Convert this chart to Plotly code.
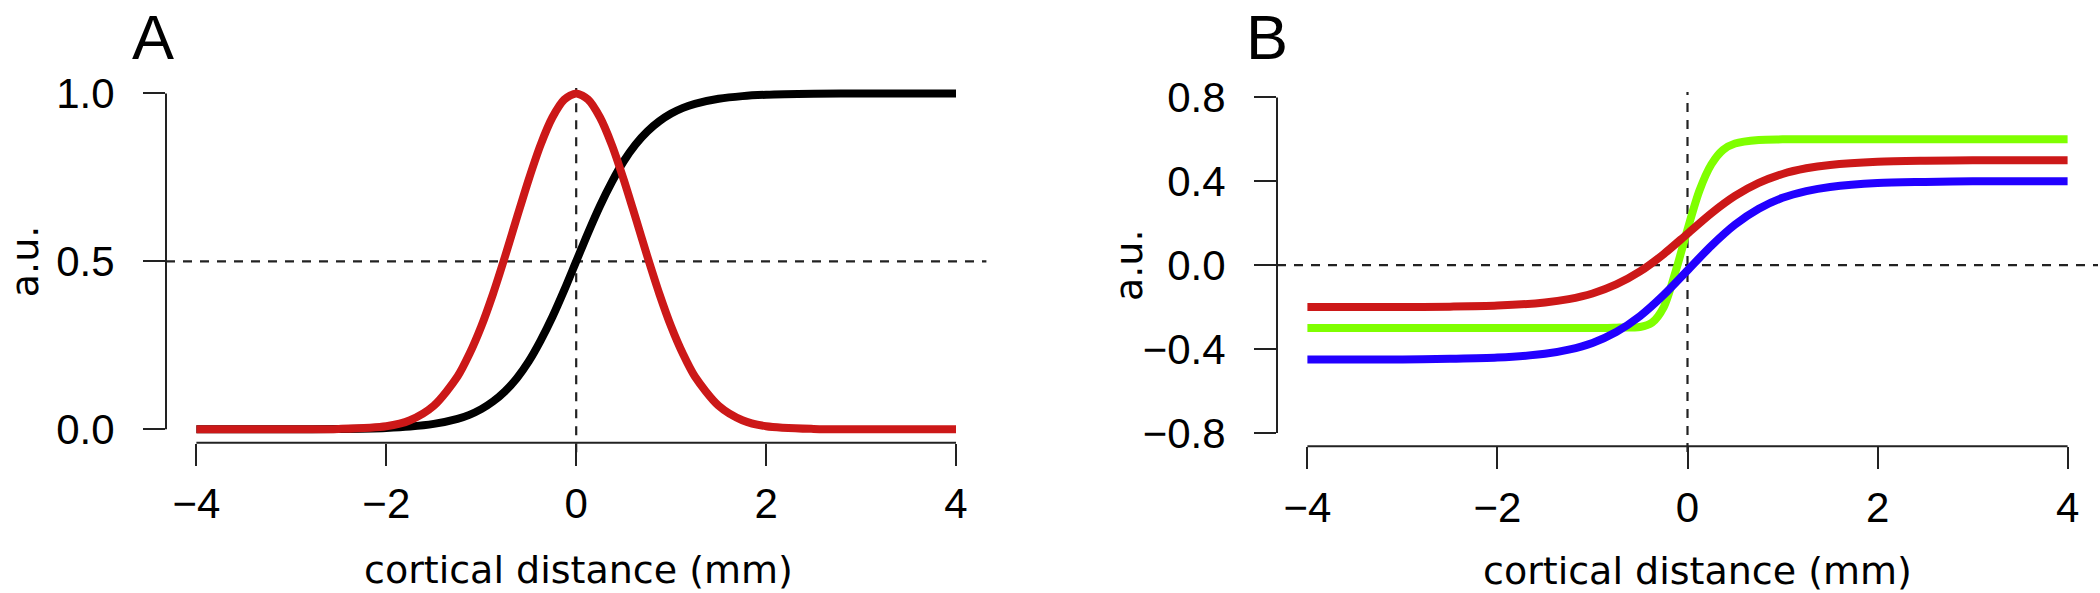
import plotly.graph_objects as go

# ---------------- data ----------------
# Panel A
xA = [-4, -3, -2.5, -2, -1.75, -1.5, -1.25, -1.125, -1, -0.875, -0.75, -0.625, -0.5, -0.375,
      -0.25, -0.125, 0, 0.125, 0.25, 0.375, 0.5, 0.625, 0.75, 0.875, 1, 1.125, 1.25, 1.5,
      1.75, 2, 2.5, 3, 4]
blackA = [0.0, 0.0, 0.001, 0.004, 0.008, 0.016, 0.031, 0.043, 0.06, 0.083, 0.113, 0.152, 0.202, 0.264,
          0.335, 0.415, 0.5, 0.585, 0.665, 0.736, 0.798, 0.848, 0.887, 0.917, 0.94, 0.957, 0.969, 0.984,
          0.992, 0.996, 0.999, 1.0, 1.0]
redA = [0.0, 0.0, 0.001, 0.009, 0.027, 0.07, 0.157, 0.224, 0.306, 0.404, 0.514, 0.63, 0.744, 0.847,
        0.929, 0.982, 1.0, 0.982, 0.929, 0.847, 0.744, 0.63, 0.514, 0.404, 0.306, 0.224, 0.157, 0.07,
        0.027, 0.009, 0.001, 0.0, 0.0]

# Panel B
xB = [-4, -3, -2.5, -2, -1.5, -1.25, -1, -0.75, -0.5, -0.25, 0,
      0.25, 0.5, 0.75, 1, 1.25, 1.5, 2, 2.5, 3, 4]
redB = [-0.2, -0.2, -0.198, -0.193, -0.178, -0.162, -0.135, -0.092, -0.03, 0.053, 0.15,
        0.247, 0.33, 0.392, 0.435, 0.462, 0.478, 0.493, 0.498, 0.5, 0.5]
blueB = [-0.45, -0.45, -0.447, -0.441, -0.423, -0.403, -0.371, -0.319, -0.243, -0.142, -0.025,
         0.092, 0.193, 0.269, 0.321, 0.353, 0.373, 0.392, 0.397, 0.4, 0.4]
xG = [-4, -1, -0.75, -0.5, -0.375, -0.25, -0.125, 0, 0.125, 0.25, 0.375, 0.5, 0.75, 1, 4]
greenB = [-0.3, -0.3, -0.298, -0.295, -0.275, -0.2, -0.03, 0.17, 0.355, 0.48, 0.55, 0.58, 0.597, 0.6, 0.6]

x_ticks = [-4, -2, 0, 2, 4]
x_ticktext = ["\u22124", "\u22122", "0", "2", "4"]
yA_ticks = [0, 0.5, 1.0]
yA_ticktext = ["0.0", "0.5", "1.0"]
yB_ticks = [-0.8, -0.4, 0.0, 0.4, 0.8]
yB_ticktext = ["\u22120.8", "\u22120.4", "0.0", "0.4", "0.8"]
x_title = "cortical distance (mm)"
y_title = "a.u."

# ---------------- layout helpers ----------------
W, H = 2100, 593
def px(x):
    return x / W
def py(y):
    return 1 - y / H

BLACK = "#000000"
RED = "#CC1818"
GREEN = "#7FFF00"
BLUE = "#2200FF"
AXC = "#222222"
LW = 8

fig = go.Figure()
fig.add_trace(go.Scatter(x=xA, y=blackA, mode="lines", line=dict(color=BLACK, width=LW, shape="spline", smoothing=0.8),
                         xaxis="x", yaxis="y", showlegend=False))
fig.add_trace(go.Scatter(x=xA, y=redA, mode="lines", line=dict(color=RED, width=LW, shape="spline", smoothing=0.8),
                         xaxis="x", yaxis="y", showlegend=False))
fig.add_trace(go.Scatter(x=xG, y=greenB, mode="lines", line=dict(color=GREEN, width=LW, shape="spline", smoothing=0.8),
                         xaxis="x2", yaxis="y2", showlegend=False))
fig.add_trace(go.Scatter(x=xB, y=redB, mode="lines", line=dict(color=RED, width=LW, shape="spline", smoothing=0.8),
                         xaxis="x2", yaxis="y2", showlegend=False))
fig.add_trace(go.Scatter(x=xB, y=blueB, mode="lines", line=dict(color=BLUE, width=LW, shape="spline", smoothing=0.8),
                         xaxis="x2", yaxis="y2", showlegend=False))

tickfont = dict(family="Liberation Sans, Arial, sans-serif", size=42, color="#000")
common_x = dict(tickvals=x_ticks, ticktext=x_ticktext, ticks="outside", ticklen=22, tickwidth=2,
                tickcolor=AXC, showline=False, showgrid=False, zeroline=False, tickfont=tickfont,
                ticklabelstandoff=2, fixedrange=True, automargin=False)
common_y = dict(ticks="outside", ticklen=22, tickwidth=2, tickcolor=AXC, showline=False,
                showgrid=False, zeroline=False, tickfont=tickfont, ticklabelstandoff=20, fixedrange=True,
                automargin=False)

# panel regions (pixels)
A_l, A_r, A_t, A_b = 166.0, 986.4, 80.0, 442.7
B_l, B_r, B_t, B_b = 1277.0, 2098.0, 84.0, 446.3

fig.update_layout(
    width=W, height=H, margin=dict(l=0, r=0, t=0, b=0, autoexpand=False),
    paper_bgcolor="white", plot_bgcolor="white",
    xaxis=dict(domain=[px(A_l), px(A_r)], range=[-4.32, 4.32], anchor="y", **common_x),
    yaxis=dict(domain=[py(A_b), py(A_t)], range=[-0.04, 1.04], anchor="x",
               tickvals=yA_ticks, ticktext=yA_ticktext, **common_y),
    xaxis2=dict(domain=[px(B_l), px(B_r)], range=[-4.32, 4.32], anchor="y2", **common_x),
    yaxis2=dict(domain=[py(B_b), py(B_t)], range=[-0.864, 0.864], anchor="x2",
                tickvals=yB_ticks, ticktext=yB_ticktext, **common_y),
)

shapes = []
dash = dict(color="#222222", width=2.2, dash="9px,8px")
# reference lines
shapes.append(dict(type="line", xref="x domain", x0=0, x1=1, yref="y", y0=0.5, y1=0.5, line=dash, layer="below"))
shapes.append(dict(type="line", xref="x", x0=0, x1=0, yref="y domain", y0=-0.026, y1=0.978, line=dash, layer="below"))
shapes.append(dict(type="line", xref="x2 domain", x0=0, x1=1, yref="y2", y0=0, y1=0, line=dash, layer="below"))
shapes.append(dict(type="line", xref="x2", x0=0, x1=0, yref="y2 domain", y0=-0.016, y1=0.978, line=dash, layer="below"))
# R-style axis lines spanning first to last tick
axl = dict(color=AXC, width=2)
shapes.append(dict(type="line", xref="x domain", x0=0, x1=0, yref="y", y0=yA_ticks[0], y1=yA_ticks[-1], line=axl))
shapes.append(dict(type="line", xref="x", x0=x_ticks[0], x1=x_ticks[-1], yref="y domain", y0=0, y1=0, line=axl))
shapes.append(dict(type="line", xref="x2 domain", x0=0, x1=0, yref="y2", y0=yB_ticks[0], y1=yB_ticks[-1], line=axl))
shapes.append(dict(type="line", xref="x2", x0=x_ticks[0], x1=x_ticks[-1], yref="y2 domain", y0=0, y1=0, line=axl))
fig.update_layout(shapes=shapes)

titlefont = dict(family="DejaVu Sans, Verdana, sans-serif", size=38, color="#000")
panelfont = dict(family="Liberation Sans, Arial, sans-serif", size=63, color="#000")
ann = [
    dict(text="A", x=px(152.5), y=1, xref="paper", yref="paper", showarrow=False,
         xanchor="center", yanchor="top", font=panelfont),
    dict(text="B", x=px(1266.7), y=1, xref="paper", yref="paper", showarrow=False,
         xanchor="center", yanchor="top", font=panelfont),
    dict(text=x_title, x=px(578), y=py(570.2), xref="paper", yref="paper", showarrow=False,
         xanchor="center", yanchor="middle", font=titlefont),
    dict(text=x_title, x=px(1697), y=py(571), xref="paper", yref="paper", showarrow=False,
         xanchor="center", yanchor="middle", font=titlefont),
    dict(text=y_title, x=px(0.5), y=py(261.7), xref="paper", yref="paper", showarrow=False,
         xanchor="left", yanchor="middle", textangle=-90, font=titlefont),
    dict(text=y_title, x=px(1105), y=py(265), xref="paper", yref="paper", showarrow=False,
         xanchor="left", yanchor="middle", textangle=-90, font=titlefont),
]
fig.update_layout(annotations=ann)

fig.write_html("out.html", config={"displayModeBar": False, "staticPlot": True},
               post_script="document.body.style.margin='0';document.body.style.padding='0';")
